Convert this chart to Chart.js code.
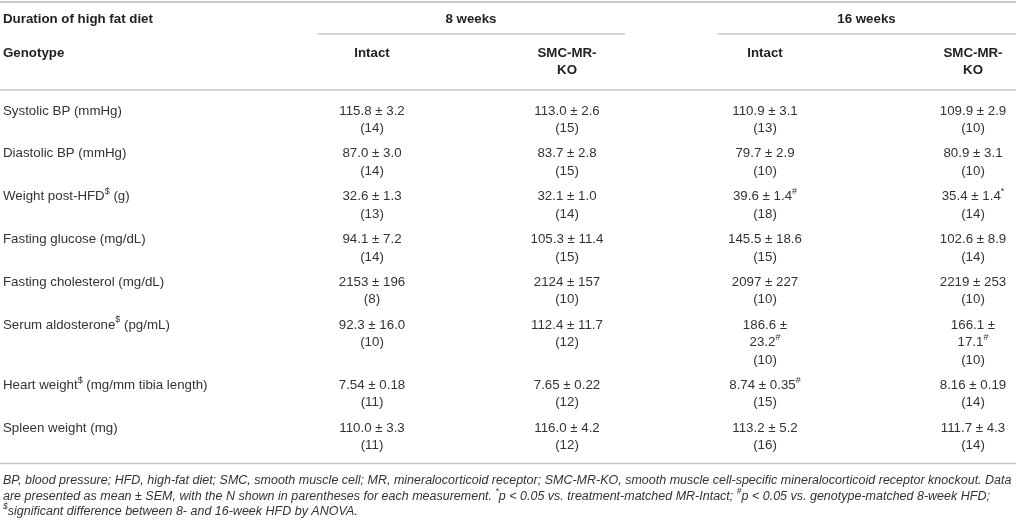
<!DOCTYPE html>
<html>
<head>
<meta charset="utf-8">
<title>High fat diet table</title>
<script src="https://cdn.jsdelivr.net/npm/chart.js"></script>
<style>
  html, body { margin: 0; padding: 0; background: #fff; }
  #wrap { width: 1016px; height: 524px; }
</style>
</head>
<body>
<div id="wrap"><canvas id="tbl" width="1016" height="524"></canvas></div>
<script>
// ---- table data ----
const durations = ['8 weeks', '16 weeks'];
const genotypes = ['Intact', 'SMC-MR-KO'];
const rowLabels = [
  'Systolic BP (mmHg)',
  'Diastolic BP (mmHg)',
  'Weight post-HFD{$} (g)',
  'Fasting glucose (mg/dL)',
  'Fasting cholesterol (mg/dL)',
  'Serum aldosterone{$} (pg/mL)',
  'Heart weight{$} (mg/mm tibia length)',
  'Spleen weight (mg)'
];
const decimals = [1, 1, 1, 1, 0, 1, 2, 1];

const mean8Intact = [115.8, 87.0, 32.6, 94.1, 2153, 92.3, 7.54, 110.0];
const sem8Intact  = [3.2, 3.0, 1.3, 7.2, 196, 16.0, 0.18, 3.3];
const n8Intact    = [14, 14, 13, 14, 8, 10, 11, 11];
const mark8Intact = ['', '', '', '', '', '', '', ''];

const mean8KO = [113.0, 83.7, 32.1, 105.3, 2124, 112.4, 7.65, 116.0];
const sem8KO  = [2.6, 2.8, 1.0, 11.4, 157, 11.7, 0.22, 4.2];
const n8KO    = [15, 15, 14, 15, 10, 12, 12, 12];
const mark8KO = ['', '', '', '', '', '', '', ''];

const mean16Intact = [110.9, 79.7, 39.6, 145.5, 2097, 186.6, 8.74, 113.2];
const sem16Intact  = [3.1, 2.9, 1.4, 18.6, 227, 23.2, 0.35, 5.2];
const n16Intact    = [13, 10, 18, 15, 10, 10, 15, 16];
const mark16Intact = ['', '', '#', '', '', '#', '#', ''];

const mean16KO = [109.9, 80.9, 35.4, 102.6, 2219, 166.1, 8.16, 111.7];
const sem16KO  = [2.9, 3.1, 1.4, 8.9, 253, 17.1, 0.19, 4.3];
const n16KO    = [10, 10, 14, 14, 10, 10, 14, 14];
const mark16KO = ['', '', '*', '', '', '#', '', ''];

const footnotes = [
  'BP, blood pressure; HFD, high-fat diet; SMC, smooth muscle cell; MR, mineralocorticoid receptor; SMC-MR-KO, smooth muscle cell-specific mineralocorticoid receptor knockout. Data',
  'are presented as mean \u00b1 SEM, with the N shown in parentheses for each measurement. {*}p < 0.05 vs. treatment-matched MR-Intact; {#}p < 0.05 vs. genotype-matched 8-week HFD;',
  '{$}significant difference between 8- and 16-week HFD by ANOVA.'
];

// ---- layout / style ----
const W = 1016, H = 524;
const FONT = '"Liberation Sans", Arial, Helvetica, sans-serif';
const BODY = 13.3;
const TXT = '#333333', HEAD = '#222222', RULE = '#c8c8c8';
const colX = [372, 567, 765, 973];        // column centres
const colMax = [150, 150, 76, 76];        // wrap width per column
const groupSpan = [[317, 625], [717, 1016]];
const LINE = 17.5, ROW_PAD = 7.8, FIRST_ROW = 111;
const FOOT_WIDTH = 1009, FOOT_LINE = 15.5;

const columns = [
  { mean: mean8Intact, sem: sem8Intact, n: n8Intact, mark: mark8Intact },
  { mean: mean8KO, sem: sem8KO, n: n8KO, mark: mark8KO },
  { mean: mean16Intact, sem: sem16Intact, n: n16Intact, mark: mark16Intact },
  { mean: mean16KO, sem: sem16KO, n: n16KO, mark: mark16KO }
];

// rich text: {..} is superscript
function segs(s) {
  const out = [];
  s.split(/(\{[^}]*\})/).forEach(p => {
    if (!p) return;
    if (p[0] === '{') out.push({ t: p.slice(1, -1), sup: true });
    else out.push({ t: p, sup: false });
  });
  return out;
}
function fontFor(size, sup, style) {
  return (style || '') + ' ' + (sup ? (size * 0.68).toFixed(1) : size) + 'px ' + FONT;
}
function measureRich(ctx, s, size, style) {
  let w = 0;
  segs(s).forEach(g => { ctx.font = fontFor(size, g.sup, style); w += ctx.measureText(g.t).width; });
  return w;
}
function drawRich(ctx, s, x, y, size, style, align) {
  let w = measureRich(ctx, s, size, style);
  let cx = align === 'center' ? x - w / 2 : x;
  ctx.textAlign = 'left';
  ctx.textBaseline = 'middle';
  segs(s).forEach(g => {
    ctx.font = fontFor(size, g.sup, style);
    ctx.fillText(g.t, cx, g.sup ? y - size * 0.38 : y);
    cx += ctx.measureText(g.t).width;
  });
}

// build the cell lines, wrapping when the value is wider than its column
const mctx = document.createElement('canvas').getContext('2d');
const cellLines = columns.map((col, c) => rowLabels.map((lab, r) => {
  const d = decimals[r];
  const mk = col.mark[r] ? '{' + col.mark[r] + '}' : '';
  const full = col.mean[r].toFixed(d) + ' \u00b1 ' + col.sem[r].toFixed(d) + mk;
  const lines = measureRich(mctx, full, BODY) > colMax[c]
    ? [col.mean[r].toFixed(d) + ' \u00b1', col.sem[r].toFixed(d) + mk]
    : [full];
  lines.push('(' + col.n[r] + ')');
  return lines;
}));
const rowLineCount = rowLabels.map((_, r) => Math.max(...cellLines.map(cl => cl[r].length)));
const rowY = [];
rowLabels.forEach((_, r) => {
  rowY.push(r === 0 ? FIRST_ROW : rowY[r - 1] + rowLineCount[r - 1] * LINE + ROW_PAD);
});
const lastRowEnd = rowY[rowY.length - 1] + (rowLineCount[rowLineCount.length - 1] - 1) * LINE;

// footnote size so the first line fills the table width
const FOOT = 11 * FOOT_WIDTH / measureRich(mctx, footnotes[0], 11, 'italic');

// one scatter point per cell
const cellPoints = [];
columns.forEach((col, c) => rowLabels.forEach((lab, r) => {
  cellPoints.push({ x: colX[c], y: rowY[r], lines: cellLines[c][r] });
}));
const labelPoints = rowLabels.map((lab, r) => ({ x: 3, y: rowY[r], lines: [lab] }));

const tablePlugin = {
  id: 'tableText',
  afterDatasetsDraw(chart) {
    const ctx = chart.ctx, xs = chart.scales.x, ys = chart.scales.y;
    ctx.save();
    // rules
    const hline = (x0, x1, yv, lw) => {
      ctx.strokeStyle = RULE; ctx.lineWidth = lw;
      ctx.beginPath();
      ctx.moveTo(xs.getPixelForValue(x0), ys.getPixelForValue(yv));
      ctx.lineTo(xs.getPixelForValue(x1), ys.getPixelForValue(yv));
      ctx.stroke();
    };
    hline(0, W, 2, 2);
    groupSpan.forEach(g => hline(g[0], g[1], 34, 1.5));
    hline(0, W, 90, 1.5);
    const bottomRule = lastRowEnd + 18;
    hline(0, W, bottomRule, 1.5);

    // headers
    ctx.fillStyle = HEAD;
    drawRich(ctx, 'Duration of high fat diet', xs.getPixelForValue(3), ys.getPixelForValue(19), BODY, 'bold', 'left');
    drawRich(ctx, 'Genotype', xs.getPixelForValue(3), ys.getPixelForValue(53), BODY, 'bold', 'left');
    durations.forEach((d, i) => {
      const mid = (groupSpan[i][0] + groupSpan[i][1]) / 2;
      drawRich(ctx, d, xs.getPixelForValue(mid), ys.getPixelForValue(19), BODY, 'bold', 'center');
    });
    colX.forEach((cx, c) => {
      const g = genotypes[c % 2];
      const parts = g === 'SMC-MR-KO' ? ['SMC-MR-', 'KO'] : [g];
      parts.forEach((p, k) => drawRich(ctx, p, xs.getPixelForValue(cx), ys.getPixelForValue(53 + k * LINE), BODY, 'bold', 'center'));
    });

    // body cells from the dataset elements
    ctx.fillStyle = TXT;
    chart.data.datasets.forEach((ds, di) => {
      const meta = chart.getDatasetMeta(di);
      meta.data.forEach((el, i) => {
        const pt = ds.data[i];
        pt.lines.forEach((ln, k) => {
          drawRich(ctx, ln, el.x, el.y + k * LINE * (ys.height / H), BODY, '', ds.align);
        });
      });
    });

    // footnotes
    ctx.fillStyle = TXT;
    footnotes.forEach((f, k) => {
      drawRich(ctx, f, xs.getPixelForValue(3), ys.getPixelForValue(bottomRule + 17 + k * FOOT_LINE), FOOT, 'italic', 'left');
    });
    ctx.restore();
  }
};

new Chart(document.getElementById('tbl'), {
  type: 'scatter',
  data: {
    datasets: [
      { data: labelPoints, align: 'left', pointRadius: 0 },
      { data: cellPoints, align: 'center', pointRadius: 0 }
    ]
  },
  options: {
    responsive: false,
    animation: false,
    layout: { padding: 0 },
    plugins: { legend: { display: false }, tooltip: { enabled: false } },
    scales: {
      x: { type: 'linear', min: 0, max: W, display: false },
      y: { type: 'linear', min: 0, max: H, reverse: true, display: false }
    }
  },
  plugins: [tablePlugin]
});
</script>
</body>
</html>
